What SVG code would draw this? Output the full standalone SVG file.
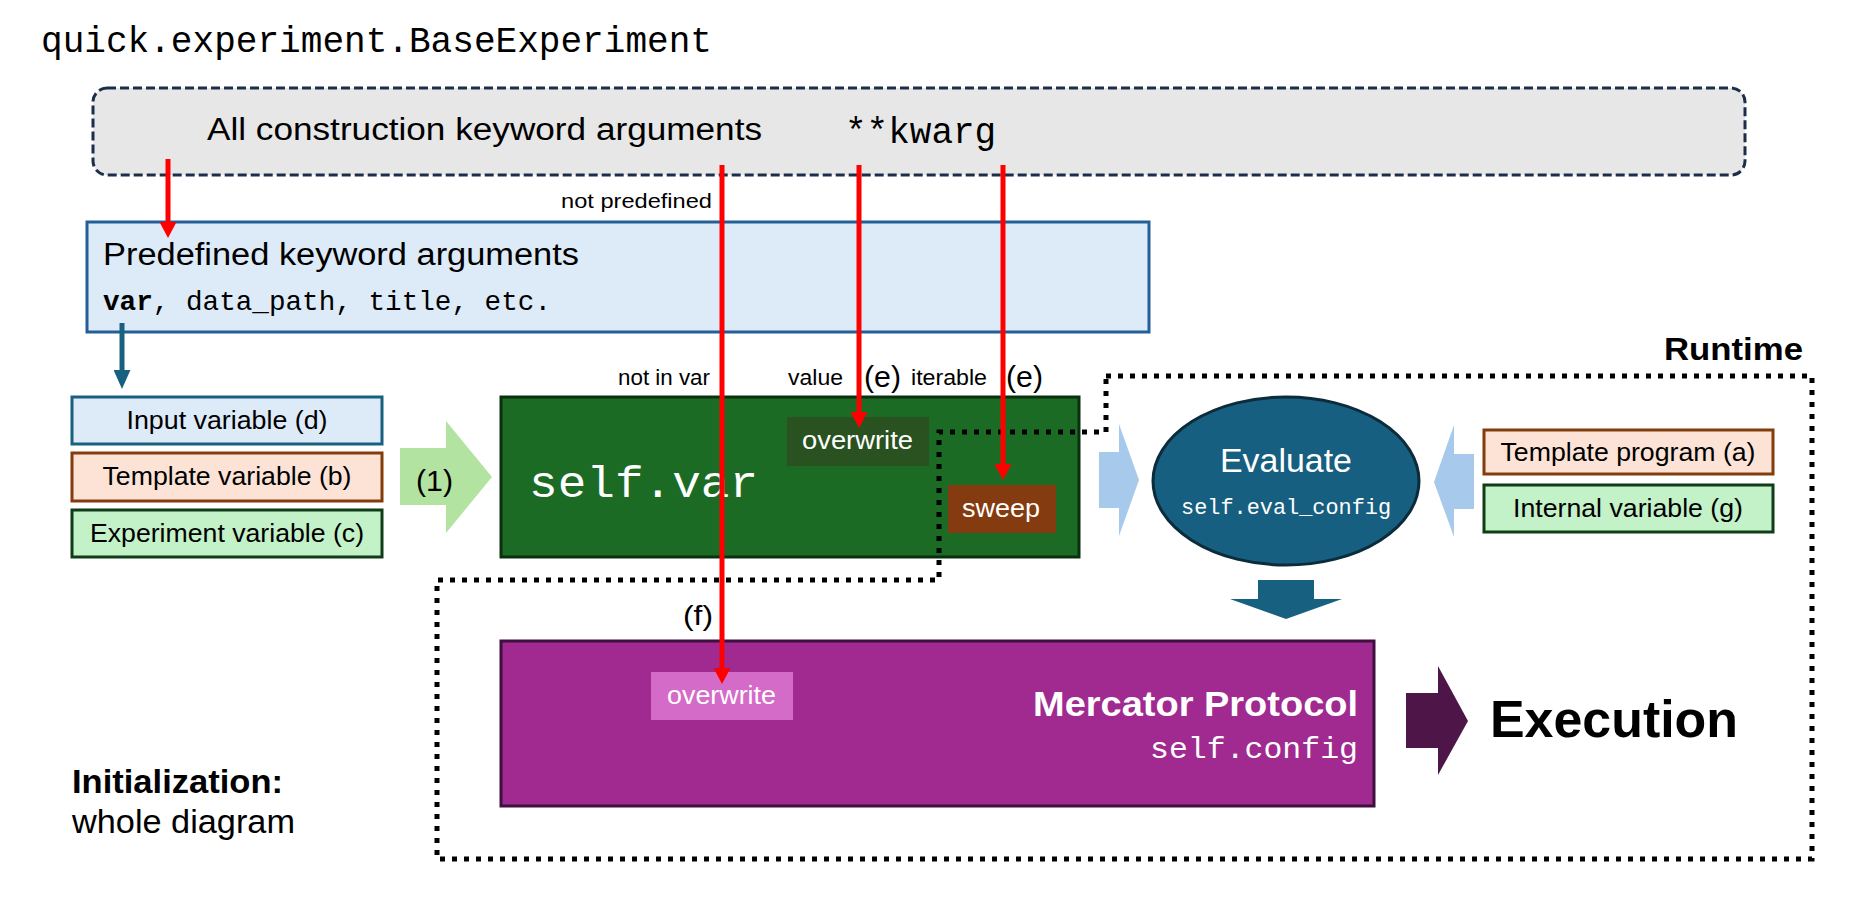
<svg xmlns="http://www.w3.org/2000/svg" width="1852" height="902" viewBox="0 0 1852 902">
<defs>
<style>
.sans{font-family:"Liberation Sans",Arial,sans-serif;}
.mono{font-family:"Liberation Mono","DejaVu Sans Mono",monospace;}
.b{font-weight:bold;}
.w{fill:#ffffff;}
.k{fill:#000000;}
.red{stroke:#ff0000;stroke-width:5;fill:none;}
.blue{stroke:#17607f;stroke-width:5;fill:none;}
.dots{fill:none;stroke:#000;stroke-width:5;stroke-dasharray:5 7;}
.box{stroke-width:3;}
</style>
<marker id="redHead" markerUnits="userSpaceOnUse" markerWidth="17" markerHeight="18" refX="0" refY="8.5" orient="auto" viewBox="0 0 17 17">
<path d="M0,0 L16,8.5 L0,17 z" fill="#ff0000"/>
</marker>
<marker id="blueHead" markerUnits="userSpaceOnUse" markerWidth="19" markerHeight="17" refX="0" refY="8" orient="auto" viewBox="0 0 18 16">
<path d="M0,0 L18,8 L0,16 z" fill="#17607f"/>
</marker>
</defs>
<rect width="1852" height="902" fill="#ffffff"/>

<g id="title">
<text class="mono k" x="41" y="52" font-size="36" textLength="671" lengthAdjust="spacingAndGlyphs">quick.experiment.BaseExperiment</text>
</g>

<g id="kwargs">
<rect x="93" y="88" width="1652" height="87" rx="14" ry="14" fill="#e7e7e7" stroke="#1b2f4a" stroke-width="3" stroke-dasharray="9 4"/>
<text class="sans k" x="207" y="140" font-size="31" textLength="555" lengthAdjust="spacingAndGlyphs">All construction keyword arguments</text>
<text class="mono k" x="845" y="143" font-size="36">**kwarg</text>
</g>

<g id="predefined">
<rect class="box" x="87" y="222" width="1062" height="110" fill="#ddeaf7" stroke="#245e99"/>
<text class="sans k" x="103" y="265" font-size="31" textLength="476" lengthAdjust="spacingAndGlyphs">Predefined keyword arguments</text>
<text class="mono k" x="103" y="310" font-size="28" textLength="448" lengthAdjust="spacingAndGlyphs"><tspan font-weight="bold">var</tspan>, data_path, title, etc.</text>
</g>

<g id="input-variable">
<rect class="box" x="72" y="397" width="310" height="47" fill="#ddeaf7" stroke="#17607f"/>
<text class="sans k" x="227" y="429" font-size="25" text-anchor="middle" textLength="201" lengthAdjust="spacingAndGlyphs">Input variable (d)</text>
</g>
<g id="template-variable">
<rect class="box" x="72" y="453" width="310" height="48" fill="#fce3d6" stroke="#843c0c"/>
<text class="sans k" x="227" y="485" font-size="25" text-anchor="middle" textLength="249" lengthAdjust="spacingAndGlyphs">Template variable (b)</text>
</g>
<g id="experiment-variable">
<rect class="box" x="72" y="510" width="310" height="47" fill="#c3f1c8" stroke="#0f3d17"/>
<text class="sans k" x="227" y="542" font-size="25" text-anchor="middle" textLength="274" lengthAdjust="spacingAndGlyphs">Experiment variable (c)</text>
</g>

<g id="arrow-1">
<polygon points="400,448 446,448 446,421 492,477 446,533 446,505 400,505" fill="#b3e3a0"/>
<text class="sans k" x="416" y="491" font-size="29" textLength="37" lengthAdjust="spacingAndGlyphs">(1)</text>
</g>

<g id="self-var">
<rect class="box" x="501" y="397" width="578" height="160" fill="#1c6b25" stroke="#0b3010"/>
<text class="mono w" x="529" y="497" font-size="44" textLength="229" lengthAdjust="spacingAndGlyphs">self.var</text>
</g>
<g id="overwrite-var">
<rect x="787" y="417" width="142" height="49" fill="#2a5220"/>
<text class="sans w" x="802" y="449" font-size="26" textLength="111" lengthAdjust="spacingAndGlyphs">overwrite</text>
</g>
<g id="sweep">
<rect x="948" y="485" width="108" height="48" fill="#843b0f"/>
<text class="sans w" x="962" y="517" font-size="26" textLength="78" lengthAdjust="spacingAndGlyphs">sweep</text>
</g>

<g id="eval-in-left">
<polygon points="1099,452 1119,452 1119,424 1139,480 1119,536 1119,508 1099,508" fill="#a7caec"/>
</g>
<g id="evaluate">
<ellipse cx="1286" cy="481" rx="133" ry="84" fill="#175f80" stroke="#0c2c3c" stroke-width="3"/>
<text class="sans w" x="1286" y="472" font-size="34" text-anchor="middle" textLength="132" lengthAdjust="spacingAndGlyphs">Evaluate</text>
<text class="mono w" x="1286" y="514" font-size="22" text-anchor="middle" textLength="210" lengthAdjust="spacingAndGlyphs">self.eval_config</text>
</g>
<g id="eval-in-right">
<polygon points="1474,454 1454,454 1454,425 1434,482 1454,537 1454,509 1474,509" fill="#a7caec"/>
</g>
<g id="template-program">
<rect class="box" x="1484" y="430" width="289" height="44" fill="#fce3d6" stroke="#843c0c"/>
<text class="sans k" x="1628" y="461" font-size="25" text-anchor="middle" textLength="255" lengthAdjust="spacingAndGlyphs">Template program (a)</text>
</g>
<g id="internal-variable">
<rect class="box" x="1484" y="485" width="289" height="47" fill="#c3f1c8" stroke="#0f3d17"/>
<text class="sans k" x="1628" y="517" font-size="25" text-anchor="middle" textLength="230" lengthAdjust="spacingAndGlyphs">Internal variable (g)</text>
</g>

<g id="eval-down">
<polygon points="1258,580 1314,580 1314,599 1342,599 1286,619 1230,599 1258,599" fill="#17607f"/>
</g>

<g id="mercator">
<rect class="box" x="501" y="641" width="873" height="165" fill="#a02a8f" stroke="#3f0f3f"/>
<text class="sans b w" x="1358" y="716" font-size="35" text-anchor="end" textLength="325" lengthAdjust="spacingAndGlyphs">Mercator Protocol</text>
<text class="mono w" x="1358" y="758" font-size="30" text-anchor="end" textLength="208" lengthAdjust="spacingAndGlyphs">self.config</text>
</g>
<g id="overwrite-config">
<rect x="651" y="672" width="142" height="48" fill="#d56bc8"/>
<text class="sans w" x="667" y="704" font-size="26" textLength="109" lengthAdjust="spacingAndGlyphs">overwrite</text>
</g>

<g id="execution">
<polygon points="1406,693 1438,693 1438,666 1468,721 1438,775 1438,748 1406,748" fill="#4e1549"/>
<text class="sans b k" x="1490" y="737" font-size="52" textLength="248" lengthAdjust="spacingAndGlyphs">Execution</text>
</g>

<g id="runtime">
<polygon class="dots" points="1106,376 1812,376 1812,859 437,859 437,580 939,580 939,432 1106,432"/>
<text class="sans b k" x="1664" y="360" font-size="32" textLength="139" lengthAdjust="spacingAndGlyphs">Runtime</text>
</g>

<g id="initialization">
<text class="sans b k" x="72" y="793" font-size="33" textLength="211" lengthAdjust="spacingAndGlyphs">Initialization:</text>
<text class="sans k" x="72" y="833" font-size="33" textLength="223" lengthAdjust="spacingAndGlyphs">whole diagram</text>
</g>

<g id="connectors">
<line class="red" x1="168" y1="159" x2="168" y2="222" marker-end="url(#redHead)"/>
<line class="red" x1="722" y1="165" x2="722" y2="668" marker-end="url(#redHead)"/>
<line class="red" x1="859" y1="165" x2="859" y2="412" marker-end="url(#redHead)"/>
<line class="red" x1="1003" y1="165" x2="1003" y2="464" marker-end="url(#redHead)"/>
<line class="blue" x1="122" y1="323" x2="122" y2="370" marker-end="url(#blueHead)"/>
</g>

<g id="connector-labels">
<text class="sans k" x="561" y="208" font-size="21" textLength="151" lengthAdjust="spacingAndGlyphs">not predefined</text>
<text class="sans k" x="618" y="385" font-size="22" textLength="92" lengthAdjust="spacingAndGlyphs">not in var</text>
<text class="sans k" x="788" y="385" font-size="22" textLength="55" lengthAdjust="spacingAndGlyphs">value</text>
<text class="sans k" x="864" y="387" font-size="30" textLength="37" lengthAdjust="spacingAndGlyphs">(e)</text>
<text class="sans k" x="911" y="385" font-size="22" textLength="76" lengthAdjust="spacingAndGlyphs">iterable</text>
<text class="sans k" x="1006" y="387" font-size="30" textLength="37" lengthAdjust="spacingAndGlyphs">(e)</text>
<text class="sans k" x="683" y="625" font-size="28" textLength="30" lengthAdjust="spacingAndGlyphs">(f)</text>
</g>
</svg>
